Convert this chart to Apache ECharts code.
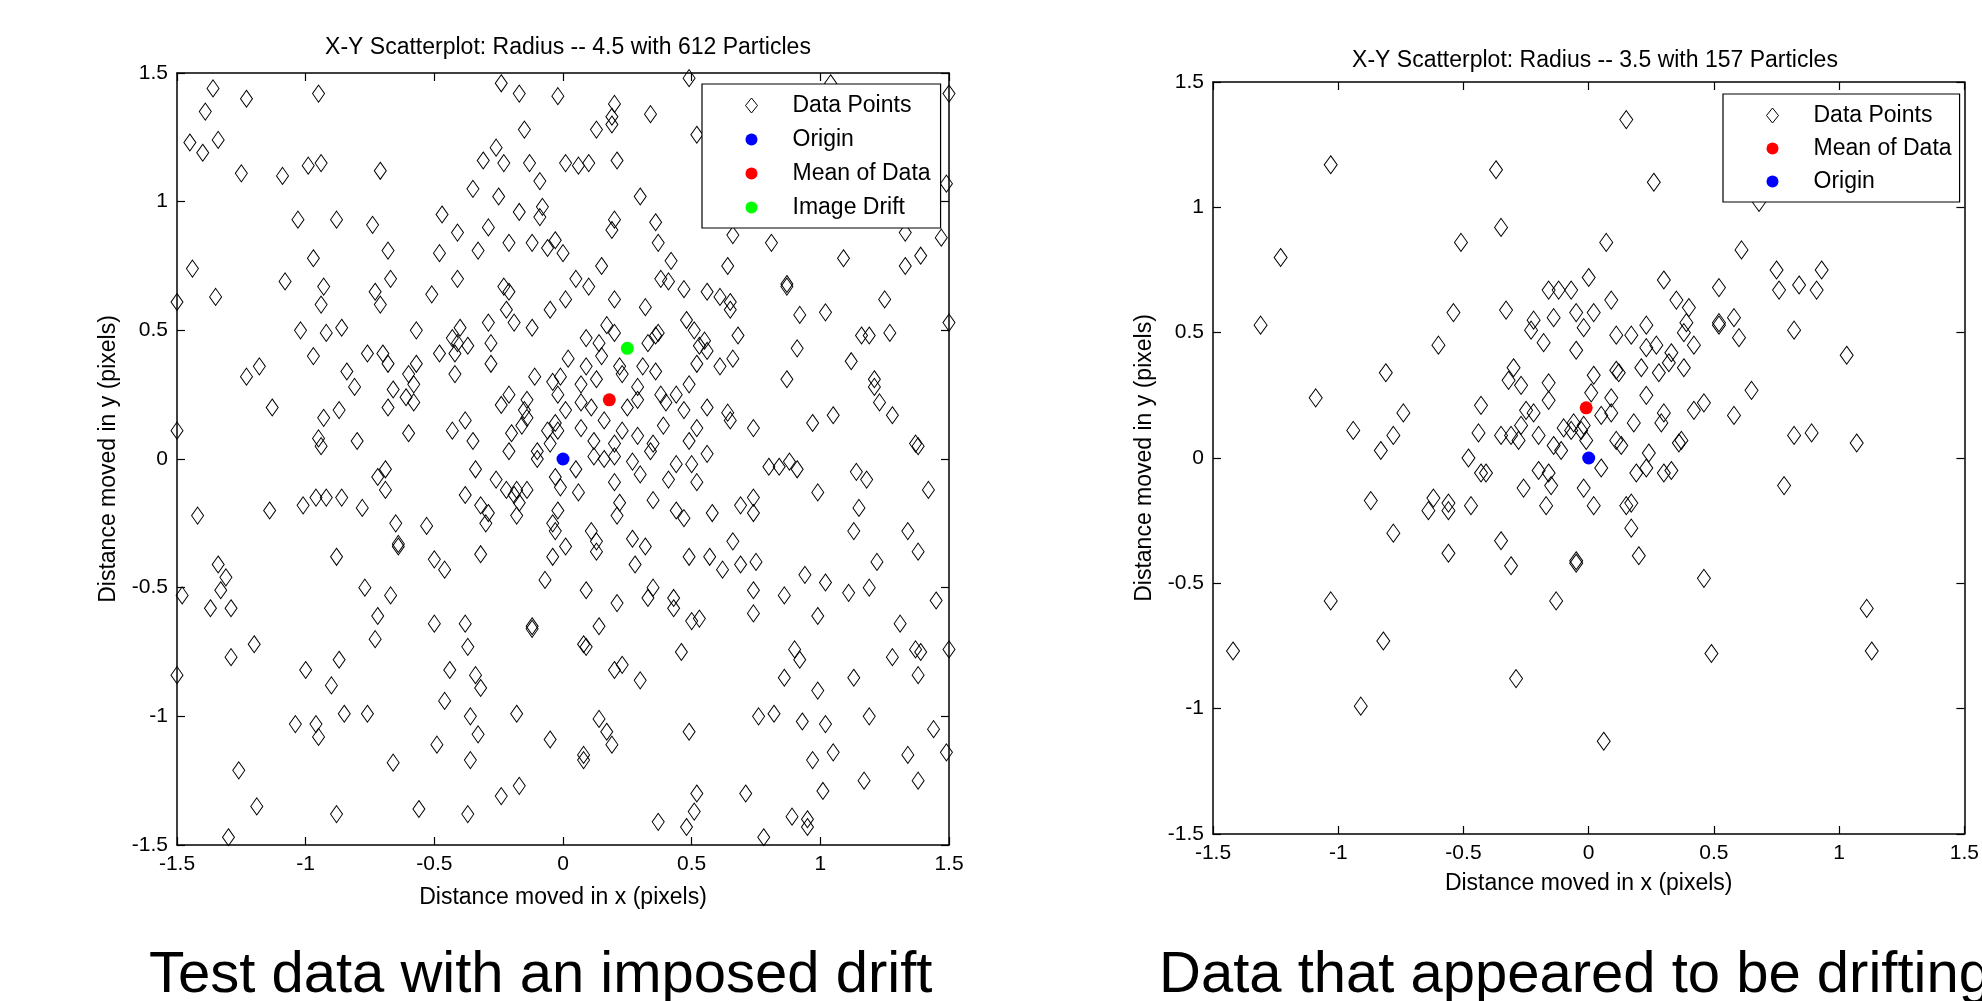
<!DOCTYPE html>
<html>
<head>
<meta charset="utf-8">
<script src="https://cdn.jsdelivr.net/npm/echarts@6/dist/echarts.min.js"></script>
<style>
html,body{margin:0;padding:0;background:#fff;}
#chart{width:1982px;height:1001px;}
</style>
</head>
<body>
<div id="chart"></div>
<script>
// ---------- data ----------
const tickValues = [-1.5, -1, -0.5, 0, 0.5, 1, 1.5];
const tickLabels = ['-1.5', '-1', '-0.5', '0', '0.5', '1', '1.5'];

const leftTitle = 'X-Y Scatterplot: Radius -- 4.5 with 612 Particles';
const rightTitle = 'X-Y Scatterplot: Radius -- 3.5 with 157 Particles';
const xName = 'Distance moved in x (pixels)';
const yName = 'Distance moved in y (pixels)';
const leftCaption = 'Test data with an imposed drift';
const rightCaption = 'Data that appeared to be drifting';

const leftLegend = ['Data Points', 'Origin', 'Mean of Data', 'Image Drift'];
const rightLegend = ['Data Points', 'Mean of Data', 'Origin'];

const leftPoints = [
[-1.36,1.44],[-1.23,1.40],[-0.95,1.42],[-1.39,1.35],[-1.45,1.23],[-1.40,1.19],[-1.34,1.24],[-1.25,1.11],[-1.09,1.10],[-0.99,1.14],[-0.94,1.15],[-0.71,1.12],[-0.24,1.46],[-0.17,1.42],[-0.02,1.41],[-0.15,1.28],[-0.26,1.21],[-0.31,1.16],[-0.23,1.15],[-0.13,1.15],[0.01,1.15],[-0.09,1.08],[-0.35,1.05],[-0.25,1.02],[-0.08,0.98],[-0.09,0.94],[-0.17,0.96],[-1.03,0.93],[-0.88,0.93],[-0.74,0.91],[-0.47,0.95],[-0.41,0.88],[-0.29,0.90],[-0.21,0.84],[-0.33,0.81],[-0.12,0.84],[-0.06,0.82],[-0.03,0.85],[0.00,0.80],[-0.68,0.81],[-0.97,0.78],[-0.48,0.80],[-1.44,0.74],[-1.08,0.69],[-0.67,0.70],[-0.41,0.70],[-0.93,0.67],[-1.35,0.63],[-1.50,0.61],[-0.94,0.60],[-0.73,0.65],[-0.71,0.60],[-0.51,0.64],[-0.23,0.67],[-0.21,0.65],[-0.05,0.58],[0.01,0.62],[-0.22,0.58],[-0.19,0.53],[-0.12,0.51],[-0.29,0.53],[-0.40,0.51],[-0.43,0.47],[-0.41,0.45],[-0.37,0.44],[-0.42,0.41],[-0.28,0.45],[-0.28,0.37],[-0.42,0.33],[-0.48,0.41],[-0.57,0.50],[-1.02,0.50],[-0.92,0.49],[-0.86,0.51],[-0.97,0.40],[-0.76,0.41],[-0.70,0.41],[-0.68,0.37],[-0.57,0.37],[-0.60,0.33],[-1.23,0.32],[-1.18,0.36],[-0.84,0.34],[-0.81,0.28],[-0.66,0.27],[-0.58,0.29],[-1.13,0.20],[-0.61,0.24],[-0.58,0.22],[-0.68,0.20],[-0.87,0.19],[-0.93,0.16],[-0.21,0.25],[-0.24,0.21],[-0.14,0.23],[-0.15,0.19],[-0.14,0.16],[-0.11,0.32],[-0.04,0.30],[-0.01,0.32],[0.02,0.39],[-0.02,0.25],[0.01,0.19],[-0.03,0.14],[-0.06,0.11],[-0.16,0.13],[-0.20,0.10],[-0.21,0.03],[-0.10,0.03],[-0.05,0.06],[-0.02,0.11],[-0.38,0.15],[-0.43,0.11],[-0.35,0.07],[-0.60,0.10],[-0.80,0.07],[-0.95,0.08],[-0.94,0.05],[-1.50,0.11],
[0.49,1.48],[0.96,1.51],[1.04,1.46],[1.50,1.42],[0.20,1.38],[0.34,1.34],[0.13,1.28],[0.19,1.30],[0.19,1.33],[0.52,1.26],[0.06,1.14],[0.10,1.15],[0.21,1.16],[1.49,1.07],[0.30,1.02],[0.20,0.93],[0.19,0.89],[0.36,0.92],[0.37,0.84],[0.15,0.75],[0.42,0.77],[0.66,0.87],[0.81,0.84],[0.64,0.75],[1.09,0.78],[1.33,0.88],[1.47,0.86],[1.39,0.79],[1.33,0.75],[0.05,0.70],[0.10,0.67],[0.20,0.62],[0.32,0.59],[0.38,0.70],[0.41,0.69],[0.47,0.66],[0.56,0.65],[0.61,0.63],[0.65,0.61],[0.65,0.58],[0.87,0.67],[0.87,0.68],[0.92,0.56],[1.02,0.57],[1.25,0.62],[1.50,0.53],[0.17,0.52],[0.20,0.49],[0.14,0.45],[0.09,0.47],[0.09,0.36],[0.15,0.40],[0.22,0.36],[0.23,0.33],[0.31,0.36],[0.33,0.45],[0.36,0.48],[0.37,0.49],[0.36,0.34],[0.48,0.54],[0.51,0.50],[0.55,0.46],[0.56,0.42],[0.53,0.44],[0.52,0.37],[0.61,0.36],[0.66,0.39],[0.68,0.48],[0.91,0.43],[1.12,0.38],[1.16,0.48],[1.19,0.48],[1.27,0.49],[0.87,0.31],[1.21,0.31],[1.21,0.28],[1.23,0.22],[1.28,0.17],[1.05,0.17],[0.97,0.14],[1.37,0.06],[1.38,0.05],[0.07,0.29],[0.13,0.31],[0.11,0.20],[0.07,0.22],[0.25,0.20],[0.29,0.28],[0.29,0.23],[0.38,0.25],[0.40,0.22],[0.44,0.25],[0.49,0.29],[0.47,0.19],[0.52,0.12],[0.56,0.20],[0.64,0.18],[0.65,0.15],[0.74,0.12],[0.23,0.11],[0.29,0.09],[0.35,0.06],[0.39,0.13],[0.49,0.07],[0.56,0.02],[0.20,0.06],[0.12,0.07],[0.07,0.12],[0.16,0.15],
[-0.69,-0.04],[-0.72,-0.07],[-0.69,-0.12],[-0.96,-0.15],[-0.92,-0.15],[-0.86,-0.15],[-1.01,-0.18],[-0.78,-0.19],[-1.42,-0.22],[-1.14,-0.20],[-0.65,-0.25],[-0.53,-0.26],[-0.34,-0.04],[-0.26,-0.08],[-0.38,-0.14],[-0.32,-0.18],[-0.29,-0.21],[-0.30,-0.25],[-0.22,-0.12],[-0.18,-0.12],[-0.14,-0.12],[-0.19,-0.14],[-0.17,-0.17],[-0.18,-0.22],[-0.10,0.00],[-0.03,-0.07],[-0.01,-0.11],[-0.02,-0.20],[-0.04,-0.25],[-0.03,-0.28],[0.01,-0.34],[-0.04,-0.38],[-0.07,-0.47],[-0.64,-0.34],[-0.64,-0.33],[-0.88,-0.38],[-0.50,-0.39],[-0.46,-0.43],[-0.32,-0.37],[-1.34,-0.41],[-1.31,-0.46],[-1.33,-0.51],[-1.48,-0.53],[-1.37,-0.58],[-1.29,-0.58],[-0.77,-0.50],[-0.67,-0.53],[-0.72,-0.61],[-0.73,-0.70],[-0.50,-0.64],[-0.38,-0.64],[-0.37,-0.73],[-0.12,-0.65],[-0.12,-0.66],[-1.20,-0.72],[-1.29,-0.77],[-1.50,-0.84],[-0.87,-0.78],[-1.00,-0.82],[-0.90,-0.88],[-0.44,-0.82],[-0.34,-0.84],[-0.32,-0.89],[-0.46,-0.94],[-0.85,-0.99],[-0.76,-0.99],[-1.04,-1.03],[-0.96,-1.03],[-0.95,-1.08],[-0.36,-1.00],[-0.33,-1.07],[-0.18,-0.99],[-0.05,-1.09],[-0.49,-1.11],[-0.66,-1.18],[-0.36,-1.17],[-1.26,-1.21],[-1.19,-1.35],[-0.88,-1.38],[-0.56,-1.36],[-0.37,-1.38],[-0.24,-1.31],[-0.17,-1.27],[-1.30,-1.47],
[0.05,-0.04],[0.12,0.01],[0.16,0.00],[0.20,0.01],[0.27,-0.01],[0.34,0.03],[0.06,-0.13],[0.20,-0.09],[0.30,-0.06],[0.41,-0.08],[0.44,-0.02],[0.50,-0.02],[0.52,-0.09],[0.80,-0.03],[0.84,-0.03],[0.88,-0.01],[0.91,-0.04],[1.14,-0.05],[1.18,-0.08],[1.42,-0.12],[0.99,-0.13],[0.22,-0.17],[0.21,-0.22],[0.35,-0.16],[0.44,-0.20],[0.47,-0.23],[0.58,-0.21],[0.69,-0.18],[0.74,-0.15],[0.74,-0.21],[1.15,-0.19],[0.11,-0.28],[0.13,-0.32],[0.13,-0.36],[0.27,-0.31],[0.32,-0.34],[0.28,-0.41],[0.66,-0.32],[0.49,-0.38],[0.57,-0.38],[0.62,-0.43],[0.69,-0.41],[0.75,-0.40],[0.94,-0.45],[1.02,-0.48],[1.13,-0.28],[1.34,-0.28],[1.38,-0.36],[1.22,-0.40],[1.11,-0.52],[1.19,-0.50],[1.45,-0.55],[0.09,-0.51],[0.21,-0.56],[0.33,-0.54],[0.35,-0.50],[0.43,-0.54],[0.43,-0.58],[0.50,-0.63],[0.53,-0.62],[0.74,-0.51],[0.74,-0.60],[0.86,-0.53],[0.99,-0.61],[1.31,-0.64],[0.14,-0.65],[0.08,-0.72],[0.09,-0.73],[0.46,-0.75],[0.90,-0.74],[0.92,-0.78],[1.28,-0.77],[1.37,-0.74],[1.39,-0.75],[1.38,-0.84],[1.50,-0.74],[0.20,-0.82],[0.23,-0.80],[0.30,-0.86],[0.86,-0.85],[0.99,-0.90],[1.13,-0.85],[0.14,-1.01],[0.17,-1.06],[0.19,-1.11],[0.49,-1.06],[0.76,-1.00],[0.82,-0.99],[0.93,-1.02],[1.02,-1.03],[1.19,-1.00],[1.44,-1.05],[1.49,-1.14],[0.08,-1.17],[0.08,-1.15],[0.97,-1.17],[1.05,-1.14],[1.34,-1.15],[1.17,-1.25],[1.38,-1.25],[0.52,-1.30],[0.71,-1.30],[1.01,-1.29],[0.51,-1.37],[0.37,-1.41],[0.48,-1.43],[0.89,-1.39],[0.95,-1.40],[0.95,-1.43],[0.78,-1.47]
];
const leftOrigin = [[0, 0]];
const leftMean = [[0.18, 0.23]];
const leftDrift = [[0.25, 0.43]];

const rightPoints = [
[-1.03,1.17],[-0.37,1.15],[-0.35,0.92],[-0.51,0.86],[-1.23,0.80],[-1.31,0.53],[-0.54,0.58],[-0.33,0.59],[-0.60,0.45],[-0.81,0.34],[-1.09,0.24],[-0.74,0.18],[-0.94,0.11],[-0.78,0.09],[-0.83,0.03],[-0.43,0.21],[-0.44,0.10],[-0.30,0.36],[-0.32,0.31],[-0.27,0.29],[-0.16,0.30],[-0.16,0.23],[-0.25,0.19],[-0.22,0.18],[-0.27,0.13],[-0.35,0.09],[-0.31,0.09],[-0.28,0.07],[-0.20,0.09],[-0.10,0.12],[-0.07,0.11],[-0.06,0.14],[-0.03,0.11],[-0.14,0.05],[-0.11,0.03],[-0.01,0.07],[-0.48,0.00],[-0.22,0.55],[-0.23,0.51],[-0.18,0.46],[-0.14,0.56],[-0.16,0.67],[-0.12,0.67],[-0.07,0.67],[0.00,0.72],[-0.05,0.58],[-0.02,0.52],[-0.05,0.43],
[0.15,1.35],[0.26,1.10],[0.68,1.02],[0.07,0.86],[0.61,0.83],[0.75,0.75],[0.93,0.75],[0.76,0.67],[0.84,0.69],[0.91,0.67],[0.30,0.71],[0.52,0.68],[0.09,0.63],[0.02,0.58],[0.35,0.63],[0.40,0.60],[0.39,0.54],[0.38,0.50],[0.42,0.45],[0.52,0.54],[0.52,0.53],[0.58,0.56],[0.60,0.48],[0.82,0.51],[1.03,0.41],[0.23,0.53],[0.17,0.49],[0.11,0.49],[0.23,0.44],[0.27,0.45],[0.33,0.42],[0.32,0.38],[0.38,0.36],[0.28,0.34],[0.21,0.36],[0.11,0.35],[0.12,0.34],[0.02,0.33],[0.01,0.26],[0.09,0.24],[0.23,0.25],[0.65,0.27],[0.46,0.22],[0.42,0.19],[0.58,0.17],[0.05,0.17],[0.09,0.18],[0.18,0.14],[0.30,0.18],[0.29,0.14],[-0.02,0.13],[0.11,0.07],[0.13,0.05],[0.24,0.02],[0.36,0.06],[0.37,0.07],[0.82,0.09],[0.89,0.10],[1.07,0.06],
[-0.43,-0.06],[-0.41,-0.06],[-0.20,-0.05],[-0.16,-0.06],[-0.15,-0.11],[-0.26,-0.12],[-0.17,-0.19],[-0.02,-0.12],[-0.87,-0.17],[-0.62,-0.16],[-0.64,-0.21],[-0.56,-0.18],[-0.56,-0.21],[-0.47,-0.19],[-0.78,-0.30],[-0.56,-0.38],[-0.35,-0.33],[-0.31,-0.43],[-0.05,-0.42],[-0.05,-0.41],[-1.03,-0.57],[-0.13,-0.57],[-1.42,-0.77],[-0.82,-0.73],[-0.29,-0.88],[-0.91,-0.99],
[0.05,-0.04],[0.19,-0.06],[0.23,-0.04],[0.30,-0.06],[0.33,-0.05],[0.02,-0.19],[0.15,-0.19],[0.17,-0.18],[0.17,-0.28],[0.20,-0.39],[0.78,-0.11],[0.46,-0.48],[1.11,-0.60],[0.49,-0.78],[1.13,-0.77],[0.06,-1.13]
];
const rightMean = [[-0.01, 0.20]];
const rightOrigin = [[0, 0]];

// ---------- styling helpers ----------
const FONT = '"Liberation Sans", Arial, sans-serif';
const fmt = v => {
  const i = tickValues.findIndex(t => Math.abs(t - v) < 1e-9);
  return i >= 0 ? tickLabels[i] : '';
};
function mkAxis(gridIndex, position, showLabel, name, nameGap) {
  return {
    type: 'value', gridIndex, position,
    min: tickValues[0], max: tickValues[tickValues.length - 1], interval: 0.5,
    name: name || '', nameLocation: 'middle', nameGap: nameGap || 0,
    nameTextStyle: { color: '#000', fontFamily: FONT, fontSize: 23 },
    axisLine: { show: true, onZero: false, lineStyle: { color: '#000', width: 1.5 } },
    axisTick: { show: true, inside: true, length: 8, lineStyle: { color: '#000', width: 1.2 } },
    axisLabel: { show: showLabel, formatter: fmt, color: '#000', fontFamily: FONT, fontSize: 21, margin: 9 },
    splitLine: { show: false }
  };
}
const diamondStyle = { color: 'rgba(255,255,255,0)', borderColor: '#000', borderWidth: 1, opacity: 1 };
function dotSeries(name, data, color, xi, yi) {
  return { name, type: 'scatter', xAxisIndex: xi, yAxisIndex: yi, data, symbol: 'circle', symbolSize: 13,
    itemStyle: { color, opacity: 1 }, emphasis: { disabled: true }, z: 5 };
}
function legendCfg(left, top, names, gap, padRight) {
  return {
    left, top, orient: 'vertical', data: names,
    itemWidth: 12, itemHeight: 15, itemGap: gap,
    padding: [10, padRight, 9, 43],
    backgroundColor: '#fff', borderColor: '#000', borderWidth: 1.2, borderRadius: 0,
    selectedMode: false,
    itemStyle: { borderWidth: 1 },
    textStyle: { color: '#000', fontFamily: FONT, fontSize: 23, lineHeight: 22, padding: [0, 0, 0, 30] }
  };
}

const chart = echarts.init(document.getElementById('chart'), null, { renderer: 'canvas' });
chart.setOption({
  animation: false,
  backgroundColor: '#fff',
  title: [
    { text: leftTitle, left: 563, top: 31, textAlign: 'center',
      textStyle: { fontFamily: FONT, fontSize: 23, fontWeight: 'normal', color: '#000' } },
    { text: rightTitle, left: 1590, top: 44, textAlign: 'center',
      textStyle: { fontFamily: FONT, fontSize: 23, fontWeight: 'normal', color: '#000' } }
  ],
  grid: [
    { left: 177, top: 73, width: 772, height: 772 },
    { left: 1213, top: 82, width: 753, height: 752 }
  ],
  xAxis: [
    mkAxis(0, 'bottom', true, xName, 41),
    mkAxis(0, 'top', false),
    mkAxis(1, 'bottom', true, xName, 38),
    mkAxis(1, 'top', false)
  ],
  yAxis: [
    mkAxis(0, 'left', true, yName, 57),
    mkAxis(0, 'right', false),
    mkAxis(1, 'left', true, yName, 57),
    mkAxis(1, 'right', false)
  ],
  legend: [
    legendCfg(702, 84, leftLegend, 11, 10),
    legendCfg(1723, 94, rightLegend, 10, 8)
  ],
  series: [
    { name: 'Data Points', type: 'scatter', xAxisIndex: 0, yAxisIndex: 0, data: leftPoints,
      symbol: 'diamond', symbolSize: [12, 17], itemStyle: diamondStyle, emphasis: { disabled: true }, z: 3 },
    dotSeries('Origin', leftOrigin, '#0000ff', 0, 0),
    dotSeries('Mean of Data', leftMean, '#ff0000', 0, 0),
    dotSeries('Image Drift', leftDrift, '#00ff00', 0, 0),
    { name: 'Data Points', type: 'scatter', xAxisIndex: 2, yAxisIndex: 2, data: rightPoints,
      symbol: 'diamond', symbolSize: [13, 18], itemStyle: diamondStyle, emphasis: { disabled: true }, z: 3 },
    dotSeries('Mean of Data', rightMean, '#ff0000', 2, 2),
    dotSeries('Origin', rightOrigin, '#0000ff', 2, 2)
  ],
  graphic: [
    { type: 'text', left: 149, top: 947, silent: true,
      style: { text: leftCaption, fill: '#000', font: '58px ' + FONT } },
    { type: 'text', left: 1159, top: 947, silent: true,
      style: { text: rightCaption, fill: '#000', font: '58px ' + FONT } }
  ]
});
</script>
</body>
</html>
